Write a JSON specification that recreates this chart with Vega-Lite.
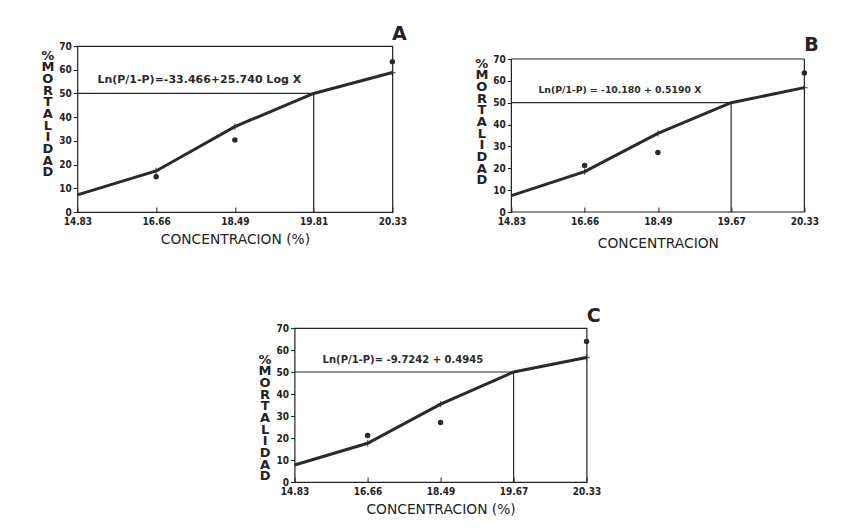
{
  "$schema": "https://vega.github.io/schema/vega-lite/v6.json",
  "background": "#ffffff",
  "padding": {"left": 40, "top": 24, "right": 10, "bottom": 5},
  "config": {
    "font": "DejaVu Sans",
    "view": {"stroke": "#222222", "strokeWidth": 1.2},
    "axis": {"grid": false, "domain": false, "labelOverlap": false, "labelFont": "DejaVu Sans Condensed", "labelFontWeight": "bold", "labelFontSize": 10, "labelColor": "#222222", "tickColor": "#222222", "titleFont": "DejaVu Sans", "titleFontWeight": "normal", "titleColor": "#222222"},
    "axisY": {"labelOverlap": false, "tickCount": 7, "labelSeparation": 0},
    "title": {"font": "DejaVu Sans", "fontSize": 19, "fontWeight": "bold", "color": "#222222", "anchor": "end", "offset": -3}
  },
  "datasets": {
    "a": [
      {"conc": "14.83", "fit": 7.2, "obs": null},
      {"conc": "16.66", "fit": 17.3, "obs": 14.9},
      {"conc": "18.49", "fit": 36.0, "obs": 30.4},
      {"conc": "19.81", "fit": 50.0, "obs": null},
      {"conc": "20.33", "fit": 58.8, "obs": 63.4}
    ],
    "b": [
      {"conc": "14.83", "fit": 7.5, "obs": null},
      {"conc": "16.66", "fit": 18.5, "obs": 21.3},
      {"conc": "18.49", "fit": 36.0, "obs": 27.2},
      {"conc": "19.67", "fit": 50.0, "obs": null},
      {"conc": "20.33", "fit": 56.9, "obs": 63.6}
    ],
    "c": [
      {"conc": "14.83", "fit": 7.7, "obs": null},
      {"conc": "16.66", "fit": 17.6, "obs": 21.1},
      {"conc": "18.49", "fit": 35.4, "obs": 27.0},
      {"conc": "19.67", "fit": 50.0, "obs": null},
      {"conc": "20.33", "fit": 56.6, "obs": 63.9}
    ],
    "a_ref": [{"x0": "14.83", "x1": "19.81", "y0": 0, "y1": 50, "eqx": "14.83", "eqy": 55.7, "eq": "Ln(P/1-P)=-33.466+25.740 Log X"}],
    "b_ref": [{"x0": "14.83", "x1": "19.67", "xr": "20.33", "y0": 0, "y1": 50, "ytop": 70, "eqx": "14.83", "eqy": 55.8, "eq": "Ln(P/1-P) = -10.180 + 0.5190 X"}],
    "c_ref": [{"x0": "14.83", "x1": "19.67", "y0": 0, "y1": 50, "eqx": "14.83", "eqy": 55.6, "eq": "Ln(P/1-P)= -9.7242 + 0.4945"}]
  },
  "vconcat": [
    {
      "hconcat": [
        {
          "title": "A",
          "width": 315,
          "height": 166,
          "layer": [
            {
              "data": {"name": "a"},
              "mark": {"type": "line", "color": "#2a2a2a", "strokeWidth": 3},
              "encoding": {
                "x": {"field": "conc", "type": "ordinal", "scale": {"type": "point", "padding": 0, "domain": ["14.83", "16.66", "18.49", "19.81", "20.33"]}, "axis": {"title": "CONCENTRACION (%)", "labelAngle": 0, "tickSize": -5, "labelPadding": 9, "titleFontSize": 13.8, "titlePadding": 6}},
                "y": {"field": "fit", "type": "quantitative", "scale": {"domain": [0, 70], "nice": false}, "axis": {"tickCount": 7, "labelOverlap": false, "tickSize": 4, "labelPadding": 2, "title": ["%", "M", "O", "R", "T", "A", "L", "I", "D", "A", "D"], "titleAngle": 0, "titleFontSize": 13, "titleFontWeight": "bold", "titleLineHeight": 11.7, "titleAlign": "center", "titleBaseline": "top", "titleX": -30, "titleY": 3}}
              }
            },
            {
              "data": {"name": "a"},
              "transform": [{"filter": "datum.obs != null"}],
              "mark": {"type": "point", "shape": "M-1,0L1,0M0,-1L0,1", "size": 40, "color": "#2a2a2a", "strokeWidth": 1.3},
              "encoding": {"x": {"field": "conc", "type": "ordinal"}, "y": {"field": "fit", "type": "quantitative"}}
            },
            {
              "data": {"name": "a"},
              "transform": [{"filter": "datum.obs != null"}],
              "mark": {"type": "circle", "size": 30, "color": "#2a2a2a", "opacity": 1},
              "encoding": {"x": {"field": "conc", "type": "ordinal"}, "y": {"field": "obs", "type": "quantitative"}}
            },
            {
              "data": {"name": "a_ref"},
              "mark": {"type": "rule", "color": "#2a2a2a", "strokeWidth": 1.2},
              "encoding": {"x": {"field": "x0", "type": "ordinal"}, "x2": {"field": "x1"}, "y": {"field": "y1", "type": "quantitative"}}
            },
            {
              "data": {"name": "a_ref"},
              "mark": {"type": "rule", "color": "#2a2a2a", "strokeWidth": 1.2},
              "encoding": {"x": {"field": "x1", "type": "ordinal"}, "y": {"field": "y0", "type": "quantitative"}, "y2": {"field": "y1"}}
            },
            {
              "data": {"name": "a_ref"},
              "mark": {"type": "text", "align": "left", "baseline": "middle", "dx": 20, "fontSize": 11, "fontWeight": "bold", "color": "#2a2a2a"},
              "encoding": {"x": {"field": "eqx", "type": "ordinal"}, "y": {"field": "eqy", "type": "quantitative"}, "text": {"field": "eq"}}
            }
          ]
        },
        {
          "title": {"text": "B", "offset": -9},
          "width": 293,
          "height": 166,
          "view": {"stroke": null},
          "layer": [
            {
              "data": {"name": "b"},
              "mark": {"type": "line", "color": "#2a2a2a", "strokeWidth": 3},
              "encoding": {
                "x": {"field": "conc", "type": "ordinal", "scale": {"type": "point", "padding": 0, "domain": ["14.83", "16.66", "18.49", "19.67", "20.33"]}, "axis": {"title": "CONCENTRACION", "labelAngle": 0, "tickSize": -5, "labelPadding": 9, "titleFontSize": 13.8, "titlePadding": 10}},
                "y": {"field": "fit", "type": "quantitative", "scale": {"domain": [0, 75.95], "nice": false}, "axis": {"tickCount": 7, "labelOverlap": false, "tickSize": 4, "labelPadding": 2, "title": ["%", "M", "O", "R", "T", "A", "L", "I", "D", "A", "D"], "titleAngle": 0, "titleFontSize": 13, "titleFontWeight": "bold", "titleLineHeight": 11.7, "titleAlign": "center", "titleBaseline": "top", "titleX": -30, "titleY": 11}}
              }
            },
            {
              "data": {"name": "b_ref"},
              "mark": {"type": "rule", "color": "#222222", "strokeWidth": 1.2},
              "encoding": {"x": {"field": "x0", "type": "ordinal"}, "x2": {"field": "xr"}, "y": {"field": "ytop", "type": "quantitative"}}
            },
            {
              "data": {"name": "b_ref"},
              "mark": {"type": "rule", "color": "#222222", "strokeWidth": 1.2},
              "encoding": {"x": {"field": "x0", "type": "ordinal"}, "x2": {"field": "xr"}, "y": {"field": "y0", "type": "quantitative"}}
            },
            {
              "data": {"name": "b_ref"},
              "mark": {"type": "rule", "color": "#222222", "strokeWidth": 1.2},
              "encoding": {"x": {"field": "x0", "type": "ordinal"}, "y": {"field": "y0", "type": "quantitative"}, "y2": {"field": "ytop"}}
            },
            {
              "data": {"name": "b_ref"},
              "mark": {"type": "rule", "color": "#222222", "strokeWidth": 1.2},
              "encoding": {"x": {"field": "xr", "type": "ordinal"}, "y": {"field": "y0", "type": "quantitative"}, "y2": {"field": "ytop"}}
            },
            {
              "data": {"name": "b"},
              "transform": [{"filter": "datum.obs != null"}],
              "mark": {"type": "point", "shape": "M-1,0L1,0M0,-1L0,1", "size": 40, "color": "#2a2a2a", "strokeWidth": 1.3},
              "encoding": {"x": {"field": "conc", "type": "ordinal"}, "y": {"field": "fit", "type": "quantitative"}}
            },
            {
              "data": {"name": "b"},
              "transform": [{"filter": "datum.obs != null"}],
              "mark": {"type": "circle", "size": 30, "color": "#2a2a2a", "opacity": 1},
              "encoding": {"x": {"field": "conc", "type": "ordinal"}, "y": {"field": "obs", "type": "quantitative"}}
            },
            {
              "data": {"name": "b_ref"},
              "mark": {"type": "rule", "color": "#2a2a2a", "strokeWidth": 1.2},
              "encoding": {"x": {"field": "x0", "type": "ordinal"}, "x2": {"field": "x1"}, "y": {"field": "y1", "type": "quantitative"}}
            },
            {
              "data": {"name": "b_ref"},
              "mark": {"type": "rule", "color": "#2a2a2a", "strokeWidth": 1.2},
              "encoding": {"x": {"field": "x1", "type": "ordinal"}, "y": {"field": "y0", "type": "quantitative"}, "y2": {"field": "y1"}}
            },
            {
              "data": {"name": "b_ref"},
              "mark": {"type": "text", "align": "left", "baseline": "middle", "dx": 27, "fontSize": 9.3, "fontWeight": "bold", "color": "#2a2a2a"},
              "encoding": {"x": {"field": "eqx", "type": "ordinal"}, "y": {"field": "eqy", "type": "quantitative"}, "text": {"field": "eq"}}
            }
          ]
        }
      ],
      "spacing": 67
    },
    {
      "title": "C",
      "width": 292,
      "height": 154,
      "layer": [
        {
          "data": {"name": "c"},
          "mark": {"type": "line", "color": "#2a2a2a", "strokeWidth": 3},
          "encoding": {
            "x": {"field": "conc", "type": "ordinal", "scale": {"type": "point", "padding": 0, "domain": ["14.83", "16.66", "18.49", "19.67", "20.33"]}, "axis": {"title": "CONCENTRACION (%)", "labelAngle": 0, "tickSize": -5, "labelPadding": 9, "titleFontSize": 13.8, "titlePadding": 6}},
            "y": {"field": "fit", "type": "quantitative", "scale": {"domain": [0, 70], "nice": false}, "axis": {"tickCount": 7, "labelOverlap": false, "tickSize": 4, "labelPadding": 2, "title": ["%", "M", "O", "R", "T", "A", "L", "I", "D", "A", "D"], "titleAngle": 0, "titleFontSize": 13, "titleFontWeight": "bold", "titleLineHeight": 11.7, "titleAlign": "center", "titleBaseline": "top", "titleX": -30, "titleY": 25}}
          }
        },
        {
          "data": {"name": "c"},
          "transform": [{"filter": "datum.obs != null"}],
          "mark": {"type": "point", "shape": "M-1,0L1,0M0,-1L0,1", "size": 40, "color": "#2a2a2a", "strokeWidth": 1.3},
          "encoding": {"x": {"field": "conc", "type": "ordinal"}, "y": {"field": "fit", "type": "quantitative"}}
        },
        {
          "data": {"name": "c"},
          "transform": [{"filter": "datum.obs != null"}],
          "mark": {"type": "circle", "size": 30, "color": "#2a2a2a", "opacity": 1},
          "encoding": {"x": {"field": "conc", "type": "ordinal"}, "y": {"field": "obs", "type": "quantitative"}}
        },
        {
          "data": {"name": "c_ref"},
          "mark": {"type": "rule", "color": "#2a2a2a", "strokeWidth": 1.2},
          "encoding": {"x": {"field": "x0", "type": "ordinal"}, "x2": {"field": "x1"}, "y": {"field": "y1", "type": "quantitative"}}
        },
        {
          "data": {"name": "c_ref"},
          "mark": {"type": "rule", "color": "#2a2a2a", "strokeWidth": 1.2},
          "encoding": {"x": {"field": "x1", "type": "ordinal"}, "y": {"field": "y0", "type": "quantitative"}, "y2": {"field": "y1"}}
        },
        {
          "data": {"name": "c_ref"},
          "mark": {"type": "text", "align": "left", "baseline": "middle", "dx": 28, "fontSize": 10, "fontWeight": "bold", "color": "#2a2a2a"},
          "encoding": {"x": {"field": "eqx", "type": "ordinal"}, "y": {"field": "eqy", "type": "quantitative"}, "text": {"field": "eq"}}
        }
      ]
    }
  ],
  "spacing": 56,
  "center": true
}
